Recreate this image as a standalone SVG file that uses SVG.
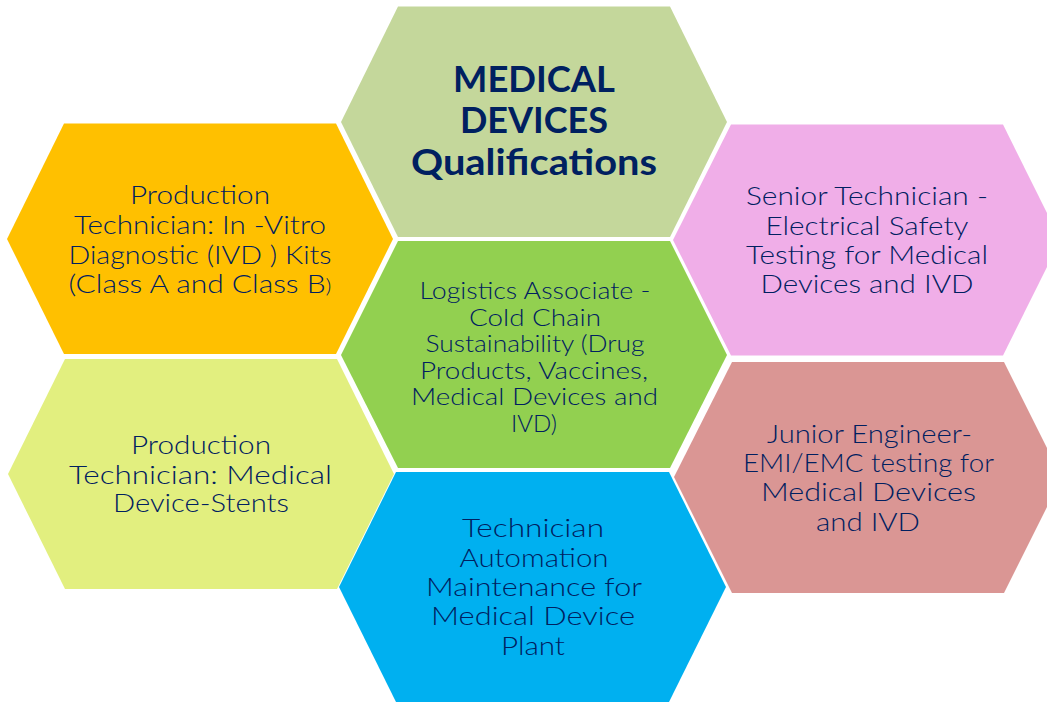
<svg xmlns="http://www.w3.org/2000/svg" width="1047" height="702" viewBox="0 0 1047 702">
<style>
text{font-family:"Lato","Open Sans","DejaVu Sans",sans-serif;fill:#002060;text-anchor:middle;font-size:25px;font-weight:300}
.c{font-size:23px}
.t{font-weight:700;font-size:36px}
</style>
<rect width="1047" height="702" fill="#fff"/>
<g id="top"><polygon points="398,6.500 670,6.500 727,122 670,237 398,237 341,122" fill="#c4d79b"/>
<text class="t" x="534" y="92" textLength="162" lengthAdjust="spacingAndGlyphs">MEDICAL</text><text class="t" x="534" y="133" textLength="148" lengthAdjust="spacingAndGlyphs">DEVICES</text><text class="t" x="534" y="175" textLength="246" lengthAdjust="spacingAndGlyphs">Qualifications</text></g>
<g id="left-top"><polygon points="64,123.500 336,123.500 393,239 336,354 64,354 7,239" fill="#ffc000"/>
<text x="200" y="204" textLength="140" lengthAdjust="spacingAndGlyphs">Production</text><text x="200" y="234" textLength="252" lengthAdjust="spacingAndGlyphs">Technician: In -Vitro</text><text x="200" y="263.500" textLength="263" lengthAdjust="spacingAndGlyphs">Diagnostic (IVD ) Kits</text><text x="200" y="293" textLength="263" lengthAdjust="spacingAndGlyphs">(Class A and Class B<tspan font-size="19">)</tspan></text></g>
<g id="right-top"><polygon points="731,124.500 1003,124.500 1047,213 1047,267 1003,355.500 731,355.500 673,240" fill="#f0aee8"/>
<text x="867" y="205" textLength="242" lengthAdjust="spacingAndGlyphs">Senior Technician -</text><text x="867" y="234.500" textLength="203" lengthAdjust="spacingAndGlyphs">Electrical Safety</text><text x="867" y="264" textLength="242" lengthAdjust="spacingAndGlyphs">Testing for Medical</text><text x="867" y="293" textLength="213" lengthAdjust="spacingAndGlyphs">Devices and IVD</text></g>
<g id="center"><polygon points="398,241 670,241 727,355 670,468 398,468 341,355" fill="#92d050"/>
<text class="c" x="535" y="299" textLength="231" lengthAdjust="spacingAndGlyphs">Logistics Associate -</text><text class="c" x="535" y="326" textLength="132" lengthAdjust="spacingAndGlyphs">Cold Chain</text><text class="c" x="535" y="352" textLength="219" lengthAdjust="spacingAndGlyphs">Sustainability (Drug</text><text class="c" x="534" y="379" textLength="228" lengthAdjust="spacingAndGlyphs">Products, Vaccines,</text><text class="c" x="534.500" y="405" textLength="247" lengthAdjust="spacingAndGlyphs">Medical Devices and</text><text class="c" x="534" y="432" textLength="46" lengthAdjust="spacingAndGlyphs">IVD)</text></g>
<g id="left-bottom"><polygon points="65,359 337,359 394,474 337,589 65,589 8,474" fill="#e2ef7f"/>
<text x="201" y="454" textLength="140" lengthAdjust="spacingAndGlyphs">Production</text><text x="200.500" y="484" textLength="263" lengthAdjust="spacingAndGlyphs">Technician: Medical</text><text x="201" y="512" textLength="176" lengthAdjust="spacingAndGlyphs">Device-Stents</text></g>
<g id="right-bottom"><polygon points="732,362 1004,362 1047,448 1047,507 1004,593 732,593 674,477" fill="#da9694"/>
<text x="869.500" y="443" textLength="205" lengthAdjust="spacingAndGlyphs">Junior Engineer-</text><text x="868.500" y="472" textLength="251" lengthAdjust="spacingAndGlyphs">EMI/EMC testing for</text><text x="868.500" y="501" textLength="215" lengthAdjust="spacingAndGlyphs">Medical Devices</text><text x="868" y="531" textLength="104" lengthAdjust="spacingAndGlyphs">and IVD</text></g>
<g id="bottom"><polygon points="396,472 669,472 726,587 669,702 396,702 339,587" fill="#00b0f0"/>
<text x="533" y="537" textLength="142" lengthAdjust="spacingAndGlyphs">Technician</text><text x="534" y="567" textLength="149" lengthAdjust="spacingAndGlyphs">Automation</text><text x="534" y="596" textLength="216" lengthAdjust="spacingAndGlyphs">Maintenance for</text><text x="533" y="625" textLength="204" lengthAdjust="spacingAndGlyphs">Medical Device</text><text x="533" y="655" textLength="64" lengthAdjust="spacingAndGlyphs">Plant</text></g>
<g id="connectors"></g>
</svg>
